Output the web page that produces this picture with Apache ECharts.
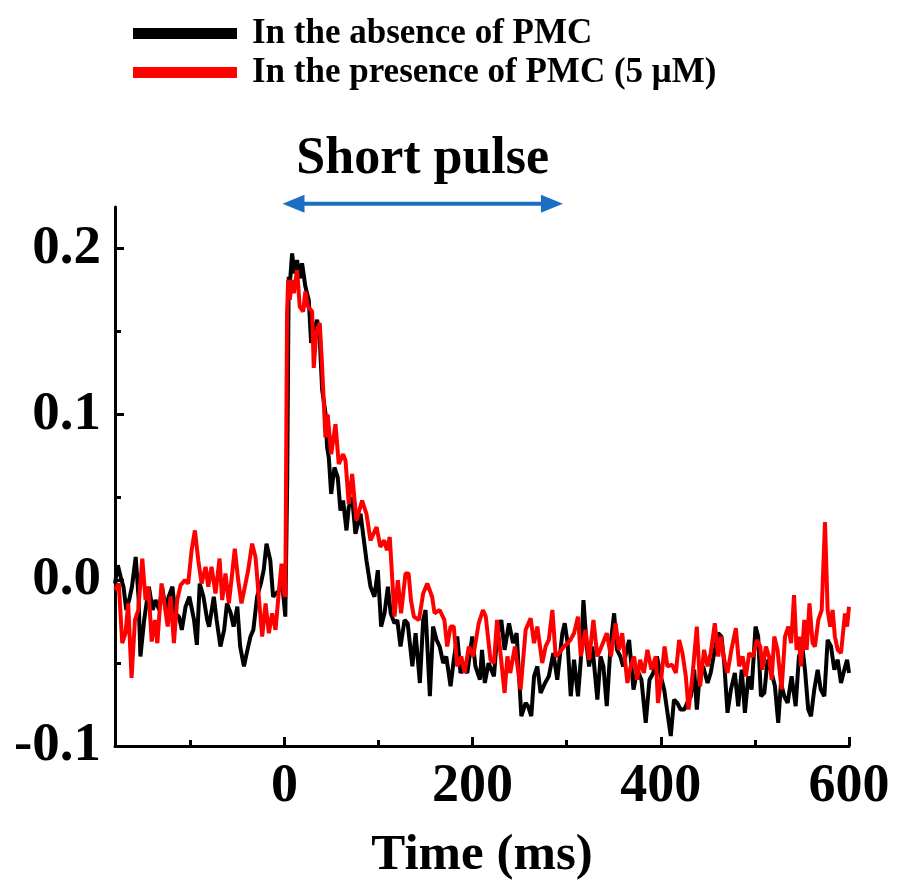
<!DOCTYPE html>
<html><head><meta charset="utf-8">
<script src="https://cdn.jsdelivr.net/npm/echarts@6/dist/echarts.min.js"></script>
<style>html,body{margin:0;padding:0;background:#fff}#c{width:898px;height:882px}</style>
</head><body><div id="c"></div>
<script>
const seriesNames = ['In the absence of PMC', 'In the presence of PMC (5 μM)'];
const xTickLabels = [0, 200, 400, 600];
const xMinorTicks = [-100, 100, 300, 500];
const yTickLabels = [-0.1, 0.0, 0.1, 0.2];
const yMinorTicks = [-0.05, 0.05, 0.15];
const pulseRange = [-2, 296];
const pulseLevel = 0.227;
const pulseLabel = 'Short pulse';
const xName = 'Time (ms)';

const blackTrace = [
[-180,-0.002],[-177,0.009],[-174,0.002],[-171,-0.004],[-168,-0.018],[-165,-0.012],[-162,-0.004],[-158,0.014],[-155,-0.010],[-153,-0.046],
[-149,-0.024],[-144,-0.004],[-140,-0.018],[-137,-0.012],[-133,-0.018],[-130,-0.004],[-126,-0.018],[-123,-0.010],[-119,-0.004],[-116,-0.020],
[-112,-0.022],[-109,-0.030],[-105,-0.016],[-101,-0.010],[-96,-0.024],[-93,-0.039],[-90,-0.002],[-86,-0.010],[-82,-0.024],[-80,-0.028],
[-75,-0.010],[-72,-0.024],[-68,-0.040],[-64,-0.030],[-61,-0.014],[-57,-0.020],[-54,-0.028],[-50,-0.016],[-47,-0.040],[-43,-0.052],
[-40,-0.044],[-36,-0.034],[-33,-0.030],[-29,-0.010],[-25,-0.002],[-22,0.006],[-19,0.022],[-15,0.012],[-12,-0.010],[-9,-0.008],
[-5,-0.006],[-2,-0.004],[1,-0.022],[3,0.060],[4.6,0.183],[6,0.180],[8.2,0.197],[10.6,0.185],[13.5,0.193],[16.3,0.182],
[18.8,0.191],[22.3,0.177],[25.9,0.169],[28.4,0.143],[31.2,0.150],[34.8,0.157],[37.6,0.145],[40.1,0.115],[43.6,0.101],[45.4,0.080],
[47.2,0.074],[49.7,0.052],[53.2,0.068],[56.7,0.062],[59.6,0.042],[62.4,0.048],[66,0.030],[68.4,0.044],[72,0.050],[75.5,0.028],
[80.9,0.040],[87.2,0.012],[91.5,-0.004],[95.7,-0.010],[99.3,0.006],[102.8,-0.028],[106.4,-0.020],[110,-0.004],[113,-0.020],[117,-0.026],
[120,-0.024],[123.4,-0.040],[127.7,-0.024],[131,-0.026],[136,-0.052],[139.4,-0.032],[144,-0.062],[147.5,-0.024],[150,-0.018],[154.6,-0.070],
[158,-0.028],[161.7,-0.036],[165,-0.040],[168.8,-0.050],[172,-0.046],[176.6,-0.064],[180,-0.048],[183.7,-0.034],[187.2,-0.056],[190.8,-0.052],
[194.4,-0.056],[199.6,-0.034],[203,-0.052],[207.8,-0.060],[210,-0.042],[213,-0.062],[217,-0.050],[222.7,-0.058],[226,-0.034],[230.5,-0.024],
[234,-0.042],[238.7,-0.026],[243,-0.038],[246.8,-0.032],[251.8,-0.082],[256.4,-0.074],[259,-0.076],[262.4,-0.082],[265.3,-0.058],[268.8,-0.052],
[272.3,-0.068],[277,-0.062],[281,-0.058],[285.8,-0.044],[290,-0.060],[295.4,-0.032],[297.9,-0.026],[301,-0.038],[304.3,-0.070],[307.8,-0.048],
[312,-0.070],[315,-0.048],[317.8,-0.012],[321.3,-0.040],[323.8,-0.052],[327.3,-0.040],[332.6,-0.072],[336,-0.046],[339,-0.052],[342.6,-0.076],
[346.8,-0.038],[350.4,-0.020],[353.5,-0.042],[357,-0.046],[360,-0.052],[366.3,-0.036],[371,-0.066],[375,-0.054],[379.4,-0.060],[384,-0.086],
[388,-0.060],[392,-0.056],[395.9,-0.046],[400,-0.058],[403.6,-0.066],[408.6,-0.086],[410.6,-0.094],[414,-0.072],[417.5,-0.074],[421,-0.078],
[425,-0.078],[428,-0.074],[432,-0.070],[435.5,-0.054],[438.3,-0.078],[441.8,-0.054],[445,-0.052],[449.7,-0.062],[453,-0.056],[456.7,-0.044],
[461,-0.032],[464.5,-0.034],[467.4,-0.050],[470.9,-0.080],[474.5,-0.066],[478.7,-0.056],[482.3,-0.076],[486,-0.054],[489.4,-0.080],[493,-0.058],
[496.5,-0.066],[500.7,-0.028],[503.5,-0.034],[506.4,-0.070],[510,-0.068],[513.5,-0.048],[517,-0.054],[521.3,-0.064],[524.8,-0.086],[527.7,-0.062],
[531.2,-0.070],[534.8,-0.074],[539,-0.058],[543.3,-0.076],[546.8,-0.046],[550.4,-0.040],[553.2,-0.054],[556.7,-0.078],[559.6,-0.082],[563.1,-0.066],
[566.7,-0.054],[570,-0.066],[573.8,-0.070],[577.3,-0.036],[580.9,-0.040],[584.4,-0.054],[588,-0.048],[591.5,-0.062],[595,-0.054],[598,-0.048],[600,-0.056]
];

const redTrace = [
[-180,-0.006],[-178.7,-0.006],[-176,-0.002],[-172.3,-0.038],[-168.8,-0.032],[-166,-0.014],[-162.4,-0.059],[-158.8,-0.024],[-155.3,-0.018],[-151,0.013],
[-147.5,-0.012],[-144.5,-0.004],[-141,-0.037],[-137.6,-0.024],[-135,-0.038],[-130.5,-0.002],[-127,-0.016],[-124,-0.028],[-120.9,-0.010],[-117.4,-0.038],
[-113.9,-0.012],[-110.3,-0.003],[-105.7,0.000],[-102.2,-0.002],[-98.6,0.018],[-95.1,0.030],[-91.5,0.012],[-88,-0.002],[-83.7,0.008],[-80.9,-0.004],
[-77.4,0.008],[-73.2,-0.008],[-68.9,0.013],[-66.1,-0.012],[-62.6,0.004],[-59,-0.014],[-55.5,0.004],[-52.7,0.019],[-49.1,0.000],[-45.6,-0.014],
[-42,-0.004],[-38.5,0.006],[-34.3,0.022],[-30.7,0.014],[-27.2,-0.010],[-23.6,-0.034],[-20,-0.014],[-16.5,-0.032],[-13,-0.020],[-9.4,-0.030],
[-5.9,-0.007],[-3,0.010],[-0.5,-0.008],[1,-0.010],[2.8,0.160],[4,0.181],[5.7,0.169],[8.2,0.181],[10,0.173],[13.5,0.187],
[16.3,0.165],[20,0.162],[22.3,0.174],[25,0.165],[29.5,0.162],[31.2,0.128],[34,0.150],[37.6,0.155],[40,0.130],[43.6,0.086],
[46,0.100],[49.7,0.076],[54.3,0.094],[57.8,0.070],[62.4,0.076],[65,0.072],[68.4,0.046],[72,0.064],[76.6,0.036],[82.6,0.048],
[87.2,0.040],[91.5,0.024],[98,0.032],[102,0.020],[106,0.024],[109,0.018],[112,0.026],[114.5,0.002],[117,-0.022],[120.6,0.000],
[124,-0.020],[128.7,0.004],[132,0.004],[134.5,-0.012],[137.6,-0.022],[143,-0.024],[147.5,-0.008],[151.8,-0.002],[157,-0.010],[159.6,-0.020],
[165,-0.018],[170,-0.024],[173,-0.040],[176.6,-0.028],[180,-0.028],[183.7,-0.052],[188,-0.046],[191.5,-0.056],[196,-0.040],[200.7,-0.046],
[206.5,-0.026],[211,-0.018],[214,-0.022],[219,-0.048],[222.7,-0.050],[226,-0.024],[230,-0.046],[234,-0.068],[237,-0.046],[240,-0.056],
[245,-0.040],[251,-0.066],[256.4,-0.030],[261.7,-0.023],[265.3,-0.038],[268.8,-0.028],[274,-0.050],[277.6,-0.040],[281,-0.036],[284.8,-0.018],
[288.3,-0.046],[292,-0.044],[297,-0.040],[301,-0.038],[304,-0.036],[307.8,-0.032],[312,-0.022],[315,-0.046],[320,-0.030],[323.8,-0.048],
[328.4,-0.024],[332.6,-0.046],[337,-0.040],[342.6,-0.032],[347,-0.046],[352,-0.026],[355.5,-0.042],[359,-0.032],[364.5,-0.062],[368,-0.052],
[371.6,-0.046],[375,-0.060],[378,-0.048],[382,-0.056],[385.8,-0.042],[390,-0.054],[394.7,-0.046],[397,-0.074],[400.7,-0.058],[404,-0.040],
[407,-0.052],[412,-0.051],[416,-0.056],[419.5,-0.036],[423,-0.044],[426.6,-0.058],[429.5,-0.078],[433.6,-0.058],[438.3,-0.028],[441.8,-0.064],
[446,-0.042],[449.7,-0.052],[453,-0.044],[457.4,-0.026],[461,-0.046],[463.8,-0.034],[467.4,-0.048],[470.9,-0.056],[475,-0.042],[479.8,-0.029],
[483.3,-0.052],[486.9,-0.046],[490.4,-0.058],[494,-0.044],[498,-0.046],[502.1,-0.036],[505.7,-0.040],[508,-0.054],[511.7,-0.040],[515,-0.046],
[517.8,-0.060],[520.6,-0.034],[524,-0.042],[528.4,-0.066],[532,-0.034],[535.5,-0.028],[538.5,-0.038],[541.6,-0.009],[544.3,-0.042],[546.8,-0.034],
[549,-0.052],[552.5,-0.024],[555,-0.042],[558,-0.014],[561.3,-0.038],[563.8,-0.040],[567.4,-0.024],[571,-0.018],[574.5,0.035],[577.3,-0.018],
[580,-0.028],[582.6,-0.018],[585,-0.034],[588,-0.042],[591.5,-0.044],[595.7,-0.020],[598,-0.028],[600,-0.016]
];

const FONT = '"Liberation Serif", "Times New Roman", serif';
const chart = echarts.init(document.getElementById('c'), null, {renderer: 'canvas'});
const xMin = -180, xMax = 600, yMin = -0.1, yMax = 0.225;
const axisLineStyle = {show: true, onZero: false, lineStyle: {color: '#000', width: 3}};

chart.setOption({
  animation: false,
  backgroundColor: '#fff',
  grid: {left: 115, right: 49, top: 207, bottom: 136, containLabel: false, outerBoundsMode: 'none'},
  legend: {
    orient: 'vertical', left: 128, top: 11,
    icon: 'rect', itemWidth: 104, itemHeight: 11, itemGap: 4,
    data: seriesNames,
    itemStyle: {borderWidth: 0},
    textStyle: {fontFamily: FONT, fontWeight: 'bold', fontSize: 35, color: '#000', padding: [0, 0, 0, 10]}
  },
  xAxis: [{
    type: 'value', min: xMin, max: xMax, position: 'bottom',
    axisLine: axisLineStyle,
    axisTick: {show: true, inside: true, length: 9, lineStyle: {width: 3, color: '#000'}, customValues: xTickLabels},
    axisLabel: {customValues: xTickLabels, margin: 14, fontFamily: FONT, fontWeight: 'bold', fontSize: 54, color: '#000'},
    splitLine: {show: false},
    name: xName, nameLocation: 'middle', nameGap: 84,
    nameTextStyle: {fontFamily: FONT, fontWeight: 'bold', fontSize: 51, color: '#000'}
  }, {
    type: 'value', min: xMin, max: xMax, position: 'bottom',
    axisLine: {show: false, onZero: false},
    axisTick: {show: true, inside: true, length: 6, lineStyle: {width: 3, color: '#000'}, customValues: xMinorTicks},
    axisLabel: {show: false}, splitLine: {show: false}
  }],
  yAxis: [{
    type: 'value', min: yMin, max: yMax, position: 'left',
    axisLine: axisLineStyle,
    axisTick: {show: true, inside: true, length: 9, lineStyle: {width: 3, color: '#000'}, customValues: yTickLabels},
    axisLabel: {customValues: yTickLabels, margin: 14, fontFamily: FONT, fontWeight: 'bold', fontSize: 55, color: '#000',
      formatter: v => v.toFixed(1)},
    splitLine: {show: false}
  }, {
    type: 'value', min: yMin, max: yMax, position: 'left',
    axisLine: {show: false, onZero: false},
    axisTick: {show: true, inside: true, length: 6, lineStyle: {width: 3, color: '#000'}, customValues: yMinorTicks},
    axisLabel: {show: false}, splitLine: {show: false}
  }],
  series: [{
    name: seriesNames[0], type: 'line', data: blackTrace, showSymbol: false, symbol: 'none',
    xAxisIndex: 0, yAxisIndex: 0,
    lineStyle: {color: '#000', width: 4}, itemStyle: {color: '#000'}
  }, {
    name: seriesNames[1], type: 'line', data: redTrace, showSymbol: false, symbol: 'none',
    xAxisIndex: 0, yAxisIndex: 0,
    lineStyle: {color: '#ff0000', width: 4}, itemStyle: {color: '#ff0000'}
  }]
});

const pA = chart.convertToPixel({gridIndex: 0}, [pulseRange[0], pulseLevel]);
const pB = chart.convertToPixel({gridIndex: 0}, [pulseRange[1], pulseLevel]);
const blue = '#1a6fc2';
const headL = 22, headW = 9;
chart.setOption({
  graphic: [
    {type: 'line', shape: {x1: pA[0] + headL - 2, y1: pA[1], x2: pB[0] - headL + 2, y2: pB[1]}, style: {stroke: blue, lineWidth: 4}},
    {type: 'polygon', shape: {points: [[pA[0], pA[1]], [pA[0] + headL, pA[1] - headW], [pA[0] + headL, pA[1] + headW]]}, style: {fill: blue}},
    {type: 'polygon', shape: {points: [[pB[0], pB[1]], [pB[0] - headL, pB[1] - headW], [pB[0] - headL, pB[1] + headW]]}, style: {fill: blue}},
    {type: 'text', x: (pA[0] + pB[0]) / 2, y: pA[1] - 18,
      style: {text: pulseLabel, align: 'center', verticalAlign: 'bottom', fontFamily: FONT, fontWeight: 'bold', fontSize: 52, fill: '#000'}}
  ]
});
</script>
</body></html>
